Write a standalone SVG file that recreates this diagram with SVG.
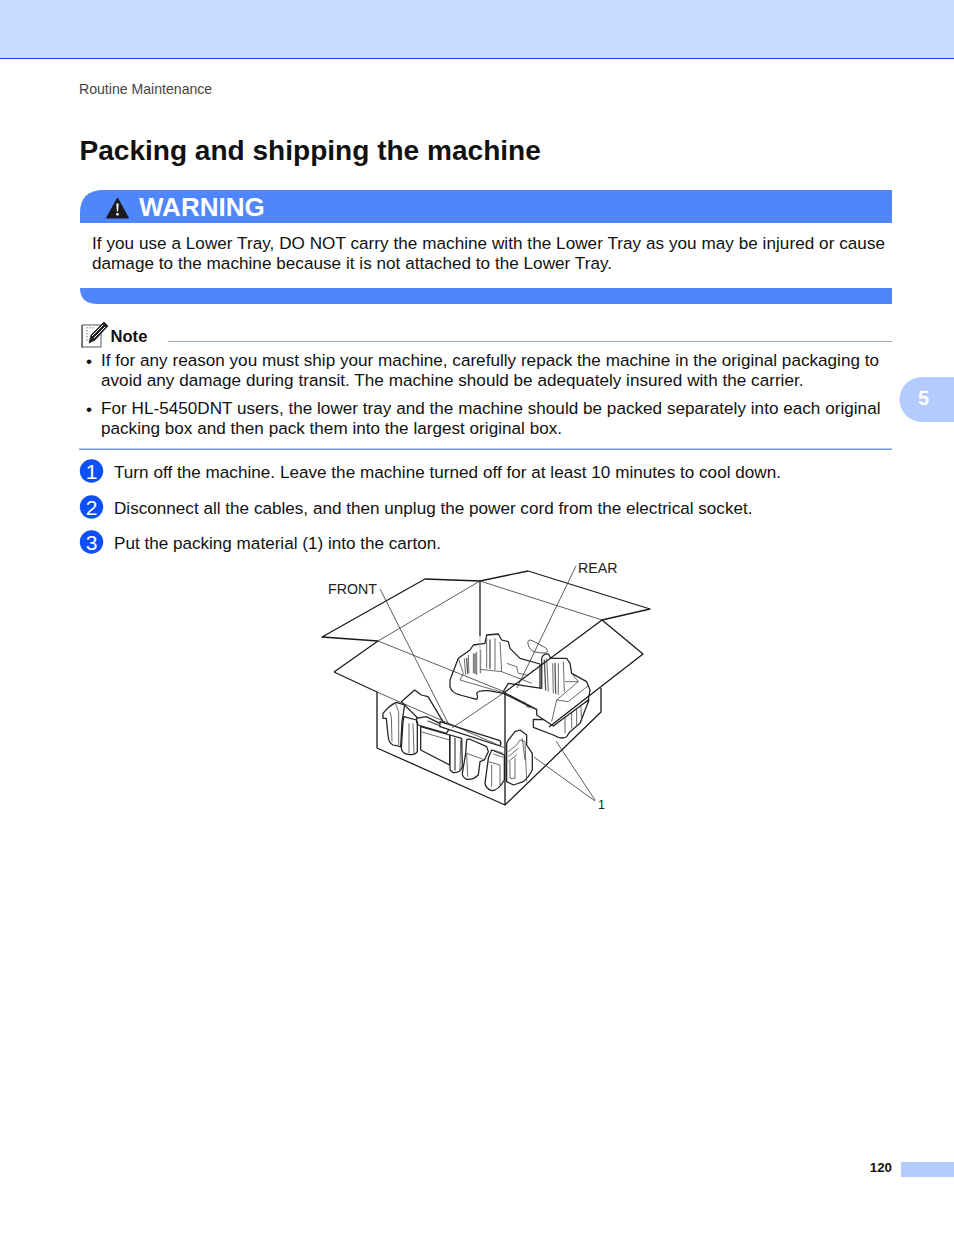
<svg xmlns="http://www.w3.org/2000/svg" width="954" height="1235" viewBox="0 0 954 1235">
<style>
text{font-family:"Liberation Sans",Arial,sans-serif;fill:#111}
.b{font-size:17.1px}
.lab{font-size:14.2px;fill:#222}
.box{fill:none;stroke:#1a1a1a;stroke-width:1.3;stroke-linejoin:round}
.thin{fill:none;stroke:#333;stroke-width:.8}
.lead{fill:none;stroke:#333;stroke-width:.8}
.foam{fill:#fff;stroke:#222;stroke-width:3.8;stroke-linejoin:round}
.fl{fill:none;stroke:#444;stroke-width:2.4;stroke-linejoin:round}
.dk{fill:none;stroke:#555;stroke-width:4;stroke-linecap:round}
.num{fill:#0b4ff5}
.dg{font-size:21px;fill:#fff;text-anchor:middle}
</style>
<rect id="header" width="954" height="58" fill="#c9dcff"/>
<rect y="58" width="954" height="1" fill="#0a4fe0"/>
<text x="79" y="94" font-size="14.100" style="fill:#444">Routine Maintenance</text>
<text x="79.500" y="160" font-size="28.050" font-weight="700">Packing and shipping the machine</text>

<g id="warning">
<path d="M80 223V213Q80 190 104 190H892V223Z" fill="#4f86fb"/>
<path d="M117.500 198L128.500 218H106.500Z" fill="#1a1a1a" stroke="#1a1a1a" stroke-width="1" stroke-linejoin="round"/>
<path d="M116.300 203.500h2.400l-.6 8h-1.200Z" fill="#fff"/><circle cx="117.500" cy="214.300" r="1.400" fill="#fff"/>
<text x="139" y="216" font-size="26" font-weight="700" style="fill:#fff">WARNING</text>
<text class="b" x="92" y="249" textLength="793">If you use a Lower Tray, DO NOT carry the machine with the Lower Tray as you may be injured or cause</text>
<text class="b" x="92" y="269" textLength="520">damage to the machine because it is not attached to the Lower Tray.</text>
<path d="M80 288H892V304H98Q80 304 80 288Z" fill="#4f86fb"/>
</g>

<g id="note">
<path d="M82 325H101V347H82Z" fill="#fff" stroke="#444" stroke-width=".9"/>
<path d="M81.500 325V348H83V325Z" fill="#666"/>
<path d="M87 327v14M90 327v3M93 327v3" stroke="#777" stroke-width="1" stroke-dasharray="1.500 1.500" fill="none"/>
<path d="M89 343L91 335L104 322L108 326L95 340Z" fill="#222" stroke="#222" stroke-width=".8"/>
<path d="M92 336L103 325M94 338L105 327" stroke="#fff" stroke-width="1" fill="none"/>
<text x="110.500" y="342" font-size="16.600" font-weight="700">Note</text>
<rect x="168" y="341" width="724" height="1" fill="#8fa9e6"/>
<text class="b" x="86" y="367">•</text>
<text class="b" x="101" y="366" textLength="778">If for any reason you must ship your machine, carefully repack the machine in the original packaging to</text>
<text class="b" x="101" y="386" textLength="702.500">avoid any damage during transit. The machine should be adequately insured with the carrier.</text>
<text class="b" x="86" y="415">•</text>
<text class="b" x="101" y="414" textLength="779.500">For HL-5450DNT users, the lower tray and the machine should be packed separately into each original</text>
<text class="b" x="101" y="434" textLength="461">packing box and then pack them into the largest original box.</text>
<rect x="79" y="448.500" width="813" height="1.500" fill="#6f9bf2"/>
</g>

<g id="step1"><circle class="num" cx="91.500" cy="471" r="11.700"/><text class="dg" x="91.500" y="478.500">1</text>
<text class="b" x="114" y="478" textLength="667">Turn off the machine. Leave the machine turned off for at least 10 minutes to cool down.</text></g>
<g id="step2"><circle class="num" cx="91.500" cy="507" r="11.700"/><text class="dg" x="91.500" y="514.500">2</text>
<text class="b" x="114" y="514" textLength="638.500">Disconnect all the cables, and then unplug the power cord from the electrical socket.</text></g>
<g id="step3"><circle class="num" cx="91.500" cy="542" r="11.700"/><text class="dg" x="91.500" y="549.500">3</text>
<text class="b" x="114" y="549" textLength="327">Put the packing material (1) into the carton.</text></g>

<g id="carton">
<g id="foam-rear-lower" transform="translate(515 640) scale(.3333)">
<path class="foam" d="M55 238V262L115 285Q140 300 155 290L165 275L195 250L222 180L120 240Z"/>
<path class="fl" d="M150 225V280M170 210V265M185 200V255M197 190L200 245"/>
</g>
<g id="foam-rear-left" transform="translate(445 630) scale(.3333)">
<path class="foam" d="M15 150L40 85L75 60L85 45L120 40L125 15L160 12L170 30L190 35L195 55L225 85L285 102L285 170L255 230L175 190L130 182Q100 180 95 190Q100 205 95 208L45 195Q20 190 15 170Z"/>
<path class="fl" d="M40 85L55 130L45 150L175 188M58 85L62 135M70 75L72 130M85 70V130M95 65V135M107 60V130M125 25V115M150 25V120M165 35L170 125M105 118L170 125M185 100L215 110L220 130L245 135M170 125L260 160"/>
<path class="dk" d="M135 30V115M65 85L68 130M90 72V130"/>
</g>
<g id="foam-rear-right" transform="translate(515 640) scale(.3333)">
<path class="foam" d="M80 55Q85 40 100 42L108 55H155L165 70L170 100L215 125L225 150L220 180L115 258L65 225L65 208L30 190L-36 156L-20 130L80 145Z"/>
<path class="fl" d="M80 60V145M95 55L100 155M113 70L115 160M130 70V165M145 65L148 155M150 125H190M170 100L190 125M125 180L190 125M125 180L110 245M125 180L160 185L222 135M30 185L35 200L65 208"/>
<path class="dk" d="M120 70L122 160M88 60L92 150"/>
</g>
<path id="foam-loop" class="thin" d="M528 644Q527 638 533 641L546 648Q550 653 543 653L535 652Q529 650 528 644Z"/>
<g id="foam-front-left" transform="translate(378 685) scale(.3333)">
<path class="foam" d="M70 50L110 15L130 30L150 35L195 110L215 130L140 120Z"/>
<path class="foam" d="M15 85Q35 60 55 52L80 60L72 110L68 185L45 180Q32 175 30 150L25 100L15 100Z"/>
<path class="fl" d="M35 80L40 95L42 170M52 55L62 80V180"/>
<path class="foam" d="M78 95L115 105L118 120V200Q110 212 90 208Q72 205 70 190L75 110Z"/>
<path class="fl" d="M93 115V205M105 115L108 205"/>
<path class="foam" d="M128 125L215 150V240L128 195Z"/>
<path class="fl" d="M128 140L215 165"/>
<path class="foam" d="M115 100L145 95L205 125L215 130L205 145L120 120Z"/>
<path class="dk" d="M150 108L205 130"/>
</g>
<g id="foam-front-right" transform="translate(445 720) scale(.3333)">
<path class="foam" d="M15 45L50 55L52 140Q45 160 25 158L15 150Z"/>
<path class="dk" d="M30 55V150"/>
<path class="fl" d="M47 60L45 150"/>
<path class="foam" d="M65 60Q70 55 80 60L125 80L130 95L118 120L105 125L100 165Q85 180 65 178Q52 172 52 160L62 100Z"/>
<path class="fl" d="M65 100L68 170M65 100L120 120"/>
<path class="foam" d="M140 90L178 105V180Q160 212 140 212Q122 205 120 190L130 115Z"/>
<path class="fl" d="M130 125L165 135M140 135V200M165 135V195M145 90L175 100M145 102L175 112"/>
<path class="foam" d="M-15 5L165 62Q170 70 165 78L-15 20Z"/>
<path class="foam" d="M190 60L210 35L225 30L245 45V75L262 100V150L250 170L235 185L205 195L185 185V70Z"/>
<path class="fl" d="M190 95L215 75L225 60L240 65L245 185M195 125V175H210M190 110L220 85M190 125L215 105M210 115V175M232 55L240 120"/>
</g>
<path class="box" d="M377 692V748L505 805L601 712V688"/>
<path class="box" d="M505 692V805"/>
<path class="box" d="M480 581V636"/>
<path class="box" d="M378 641L322 637L425 579L480 581L528 571L650 609L602 620L643 654L549 727"/>
<path class="box" d="M334 672L378 641M334 672L377 692"/>
<path class="box" d="M602 620L505 692"/>
<path class="thin" d="M378 641L480 581L602 620M378 641L505 692M377 692L505 748M505 692L452 728"/>
<path d="M480 636V673" stroke="#999" stroke-width=".7"/>
</g>

<g id="connectors">
<path class="lead" d="M380 589L449 725M576 566L517 688M595 800L556 741M595 801L534 757"/>
</g>
<text class="lab" x="328" y="594">FRONT</text>
<text class="lab" x="578" y="573">REAR</text>
<text x="598" y="809" font-size="12.500" style="fill:#222">1</text>

<g id="chapter-tab"><path d="M954 377H922A22.500 22.500 0 0 0 922 422H954Z" fill="#b3cbff"/>
<text x="923.500" y="405" font-size="20" font-weight="700" text-anchor="middle" style="fill:#fff">5</text></g>
<g id="page-number"><text x="892" y="1172" font-size="13.300" font-weight="700" text-anchor="end">120</text>
<rect x="901" y="1162" width="53" height="15" fill="#b3cbff"/></g>
</svg>
